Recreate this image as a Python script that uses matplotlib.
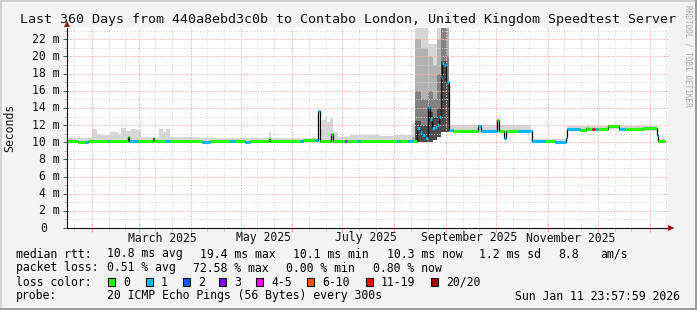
import matplotlib
matplotlib.use("Agg")
import matplotlib.pyplot as plt
import matplotlib.dates as mdates
from matplotlib.patches import Polygon, Rectangle
from matplotlib.ticker import MultipleLocator
from matplotlib.transforms import blended_transform_factory
from datetime import datetime

# ---------------- data ----------------
title = "Last 360 Days from 440a8ebd3c0b to Contabo London, United Kingdom Speedtest Server"
start_time = datetime(2025, 1, 16, 23, 57, 59)
span_days = 360
data_end_day = 358.5

# median rtt steps (day offset from start, value in ms, loss bucket index)
median_day = [0, 6.6, 10.8, 12.3, 24.3, 25.2, 36.5, 37.1, 42.5, 51.5, 52.1, 58.7, 61.7,
              80.9, 85.7, 97.6, 100.6, 106.6, 109.6, 121.0, 121.6, 139.6, 141.4, 148.6,
              150.4, 151.6, 158.1, 159.3, 166.5, 167.7, 173.7, 175.5, 197.7, 199.5, 204.3,
              207.3, 209.7, 211.2, 212.7, 214.4, 216.2, 217.4, 218.9, 220.4, 221.9, 223.1,
              224.0, 224.9, 226.1, 227.0, 227.9, 228.8, 231.2, 246.2, 248.0, 257.6, 258.8,
              261.8, 263.0, 270.2, 278.5, 286.3, 292.3, 298.9, 299.8, 307.3, 310.9, 312.1,
              314.5, 316.3, 318.1, 324.1, 330.7, 334.3, 336.1, 345.0, 353.4, 354.3]
median_ms = [10.1, 10.05, 10.05, 10.2, 10.2, 10.2, 10.6, 10.15, 10.2, 10.45, 10.2, 10.15, 10.2,
             10.0, 10.2, 10.2, 10.2, 10.05, 10.2, 10.4, 10.2, 10.2, 10.25, 10.25,
             13.6, 10.2, 11.0, 10.2, 10.2, 10.2, 10.15, 10.2, 10.2, 10.2, 10.15,
             10.2, 11.7, 11.2, 10.8, 10.5, 14.1, 12.7, 11.7, 11.8, 12.0, 12.9,
             17.6, 19.2, 19.0, 16.9, 17.0, 11.4, 11.35, 11.9, 11.35, 12.6, 11.35,
             10.45, 11.35, 11.35, 10.15, 10.15, 10.0, 10.5, 11.5, 11.45, 11.7, 11.5,
             11.5, 11.5, 11.5, 11.9, 11.5, 11.5, 11.6, 11.65, 10.9, 10.2]
median_loss = [0, 0, 1, 0, 1, 0, 0, 1, 0, 0, 0, 1, 0,
               1, 0, 1, 0, 1, 0, 0, 0, 1, 0, 1,
               1, 0, 0, 0, 3, 0, 1, 0, 1, 0, 1,
               0, 1, 1, 1, 1, 1, 1, 1, 1, 1, 1,
               1, 1, 1, 1, 1, 1, 0, 1, 1, 0, 0,
               1, 0, 1, 1, 0, 1, 1, 1, 0, 0, 0,
               6, 1, 0, 0, 1, 0, 0, 0, 1, 0]

# smoke (ping spread) steps: lo / core / mid / up / hi envelopes
smoke_day = [0, 15.0, 18.0, 21.0, 25.8, 30.5, 32.3, 35.3, 38.3, 41.3, 44.3, 50.9, 55.1, 57.5,
             59.3, 61.7, 79.7, 121.0, 122.2, 150.4, 151.6, 152.8, 154.5, 155.7, 157.5, 159.3,
             162.3, 169.5, 178.5, 187.5, 196.5, 206.7, 208.5, 212.1, 216.2, 219.2, 221.6,
             224.0, 227.9, 228.8, 257.0, 259.4, 278.0, 299.8, 324.1, 330.7, 353.4]
smoke_hi = [10.45, 11.5, 11.0, 10.9, 11.2, 11.0, 11.7, 11.3, 11.6, 11.4, 10.6, 10.5, 11.6, 11.2,
            11.6, 10.6, 10.5, 11.2, 10.5, 10.5, 11.6, 12.6, 13.1, 12.4, 12.8, 11.2,
            10.6, 10.8, 10.9, 10.75, 10.9, 12.2, 23.3, 23.3, 21.5, 21.5, 23.3,
            23.3, 23.3, 12.0, 12.6, 12.0, 10.4, 11.9, 12.0, 11.9, 10.4]
smoke_up = [10.0, 10.0, 10.0, 10.0, 10.0, 10.0, 10.0, 10.0, 10.0, 10.0, 10.0, 10.0, 10.0, 10.0,
            10.0, 10.0, 10.0, 10.0, 10.0, 10.0, 10.0, 10.0, 10.0, 10.0, 10.0, 10.0,
            10.0, 10.0, 10.0, 10.0, 10.0, 10.6, 22.0, 21.0, 20.0, 19.0, 22.0,
            23.3, 23.3, 11.2, 11.2, 11.2, 10.0, 11.3, 11.6, 11.3, 10.0]
smoke_mid = [10.0, 10.0, 10.0, 10.0, 10.0, 10.0, 10.0, 10.0, 10.0, 10.0, 10.0, 10.0, 10.0, 10.0,
             10.0, 10.0, 10.0, 10.0, 10.0, 10.0, 10.0, 10.0, 10.0, 10.0, 10.0, 10.0,
             10.0, 10.0, 10.0, 10.0, 10.0, 10.3, 16.0, 15.0, 16.0, 15.0, 18.0,
             23.3, 20.0, 11.2, 11.2, 11.2, 10.0, 11.3, 11.6, 11.3, 10.0]
smoke_core = [10.0, 10.0, 10.0, 10.0, 10.0, 10.0, 10.0, 10.0, 10.0, 10.0, 10.0, 10.0, 10.0, 10.0,
              10.0, 10.0, 10.0, 10.0, 10.0, 10.0, 10.0, 10.0, 10.0, 10.0, 10.0, 10.0,
              10.0, 10.0, 10.0, 10.0, 10.0, 10.2, 12.5, 12.0, 13.5, 13.0, 14.0,
              19.5, 17.0, 11.2, 11.2, 11.2, 10.0, 11.3, 11.6, 11.3, 10.0]
smoke_lo = [10.0, 10.0, 10.0, 10.0, 10.0, 10.0, 10.0, 10.0, 10.0, 10.0, 10.0, 10.0, 10.0, 10.0,
            10.0, 10.0, 10.0, 10.0, 10.0, 10.0, 10.0, 10.0, 10.0, 10.0, 10.0, 10.0,
            10.0, 10.0, 10.0, 10.0, 10.0, 10.0, 10.0, 10.0, 10.0, 10.3, 10.6,
            11.2, 11.2, 11.2, 11.2, 11.2, 10.0, 11.3, 11.6, 11.3, 10.0]

loss_labels = ["0", "1", "2", "3", "4-5", "6-10", "11-19", "20/20"]
loss_colors = ["#26ff00", "#00b8ff", "#0059ff", "#7e00ff", "#ff00ff", "#ff5500", "#ff0000", "#a10000"]

ytick_values = [0, 2, 4, 6, 8, 10, 12, 14, 16, 18, 20, 22]
ytick_labels = ["0", "2 m", "4 m", "6 m", "8 m", "10 m", "12 m", "14 m", "16 m", "18 m", "20 m", "22 m"]
xlabel_dates = ["2025-03-15", "2025-05-15", "2025-07-15", "2025-09-15", "2025-11-15"]
xlabel_texts = ["March 2025", "May 2025", "July 2025", "September 2025", "November 2025"]

stat_rtt = ["10.8 ms avg", "19.4 ms max", "10.1 ms min", "10.3 ms now", "1.2 ms sd", "8.8", "am/s"]
stat_loss = ["0.51 % avg", "72.58 % max", "0.00 % min", "0.80 % now"]
probe_text = "20 ICMP Echo Pings (56 Bytes) every 300s"
stamp_text = "Sun Jan 11 23:57:59 2026"

# ---------------- layout ----------------
W, H = 697, 310
MONO = "DejaVu Sans Mono"
FS = 8.3

fig = plt.figure(figsize=(W / 100, H / 100), dpi=100, facecolor="#f3f3f3")


def fx(px):
    return px / W


def fy(py):
    return 1 - py / H


ax_l, ax_r, ax_t, ax_b = 67, 668, 28, 228
ax = fig.add_axes([fx(ax_l), fy(ax_b), fx(ax_r) - fx(ax_l), fy(ax_t) - fy(ax_b)])
ax.set_facecolor("white")

t0 = mdates.date2num(start_time)
ax.set_xlim(t0, t0 + span_days)
ax.set_ylim(0, 23.32)


def ext(a):
    return list(a) + [a[-1]]


# smoke
sx = [t0 + d for d in smoke_day] + [t0 + data_end_day]
for top, col, z in [(smoke_hi, "#d6d6d6", 1.0), (smoke_up, "#b2b2b2", 1.1),
                    (smoke_mid, "#828282", 1.2), (smoke_core, "#4c4c4c", 1.3)]:
    ax.fill_between(sx, ext(smoke_lo), ext(top), step="post", color=col, lw=0, zorder=z)

# median
mx = [t0 + d for d in median_day] + [t0 + data_end_day]
ax.step(mx, ext(median_ms), where="post", color="#000000", lw=0.9, zorder=3)
for i in range(len(median_ms)):
    ax.hlines(median_ms[i], mx[i], mx[i + 1], color=loss_colors[median_loss[i]], lw=2.2, zorder=4)

# grid
ax.set_axisbelow(False)
ax.xaxis.set_major_locator(mdates.MonthLocator(bymonthday=1))
ax.xaxis.set_minor_locator(mdates.DayLocator(bymonthday=[11, 21]))
ax.yaxis.set_major_locator(MultipleLocator(2))
ax.yaxis.set_minor_locator(MultipleLocator(1))
ax.grid(which="major", color="#f4b0b0", lw=0.72, ls=(0, (1.4, 1.4)), zorder=2.5)
ax.grid(which="minor", color="#d4d4d4", lw=0.72, ls=(0, (1.0, 1.6)), zorder=2.5)
ax.tick_params(labelleft=False, labelbottom=False)
ax.tick_params(axis="x", which="major", length=3, color="#f0a0a0", width=0.72)
ax.tick_params(axis="x", which="minor", length=2, color="#cccccc", width=0.72)
ax.tick_params(axis="y", which="major", length=3, color="#555555", width=0.72)
ax.tick_params(axis="y", which="minor", length=2, color="#bbbbbb", width=0.72)
for s in ["top", "right"]:
    ax.spines[s].set_visible(False)
for s in ["left", "bottom"]:
    ax.spines[s].set_color("#111111")
    ax.spines[s].set_linewidth(0.8)
    ax.spines[s].set_zorder(6)

# y tick labels
ytr = blended_transform_factory(fig.transFigure, ax.transData)
for v, lab in zip(ytick_values, ytick_labels):
    xr = 59.5 if lab.endswith("m") else 47.5
    ax.text(fx(xr), v, lab, transform=ytr, ha="right", va="center", fontsize=FS,
            family=MONO, color="#111111", clip_on=False)

# x labels
xtr = blended_transform_factory(ax.transData, fig.transFigure)
for d, lab in zip(xlabel_dates, xlabel_texts):
    ax.text(mdates.datestr2num(d), fy(238), lab, transform=xtr, ha="center", va="center",
            fontsize=FS, family=MONO, color="#111111", clip_on=False)

# arrows
arrow_col = "#8b1a1a"
fig.patches.append(Polygon([[fx(64), fy(27)], [fx(70), fy(27)], [fx(67), fy(21)]],
                           closed=True, transform=fig.transFigure, color=arrow_col, lw=0))
fig.patches.append(Polygon([[fx(668), fy(225)], [fx(668), fy(231)], [fx(674.5), fy(228)]],
                           closed=True, transform=fig.transFigure, color=arrow_col, lw=0))

# texts
fig.text(fx(348), fy(19), title, ha="center", va="center", fontsize=9.6, family=MONO, color="#111111")
fig.text(fx(10), fy(128), "Seconds", rotation=90, ha="center", va="center", fontsize=FS,
         family=MONO, color="#111111")
fig.text(fx(688), fy(5), "RRDTOOL / TOBI OETIKER", rotation=270, ha="center", va="top",
         fontsize=5.6, family=MONO, color="#a8a8a8")

row_y = [254, 268, 282, 296]
fig.text(fx(16), fy(row_y[0]), "median rtt:", ha="left", va="center", fontsize=FS, family=MONO)
for xp, t in zip([107, 200, 293, 387, 479, 558, 600], stat_rtt):
    fig.text(fx(xp), fy(row_y[0]), t, ha="left", va="center", fontsize=FS, family=MONO)
fig.text(fx(16), fy(row_y[1]), "packet loss:", ha="left", va="center", fontsize=FS, family=MONO)
for xp, t in zip([107, 193, 286, 373], stat_loss):
    fig.text(fx(xp), fy(row_y[1]), t, ha="left", va="center", fontsize=FS, family=MONO)
fig.text(fx(16), fy(row_y[2]), "loss color:", ha="left", va="center", fontsize=FS, family=MONO)
box_x = [108, 146, 183, 219, 256, 307, 366, 431]
for bx, lab, col in zip(box_x, loss_labels, loss_colors):
    fig.patches.append(Rectangle((fx(bx), fy(row_y[2] + 4)), 7 / W, 8 / H, transform=fig.transFigure,
                                 facecolor=col, edgecolor="#000000", lw=0.75))
    fig.text(fx(bx + 15), fy(row_y[2]), lab, ha="left", va="center", fontsize=FS, family=MONO)
fig.text(fx(16), fy(row_y[3]), "probe:", ha="left", va="center", fontsize=FS, family=MONO)
fig.text(fx(107), fy(row_y[3]), probe_text, ha="left", va="center", fontsize=FS, family=MONO)
fig.text(fx(680), fy(row_y[3]), stamp_text, ha="right", va="center", fontsize=FS, family=MONO)

# frame
fig.patches.append(Rectangle((0, fy(2)), 1, 2 / H, transform=fig.transFigure, color="#d2d2d2", lw=0))
fig.patches.append(Rectangle((0, 0), 2 / W, 1, transform=fig.transFigure, color="#d2d2d2", lw=0))
fig.patches.append(Rectangle((0, 0), 1, 2.5 / H, transform=fig.transFigure, color="#9c9c9c", lw=0))
fig.patches.append(Rectangle((1 - 2.5 / W, 0), 2.5 / W, 1, transform=fig.transFigure, color="#9c9c9c", lw=0))

fig.savefig("out.png", dpi=100, facecolor=fig.get_facecolor())
